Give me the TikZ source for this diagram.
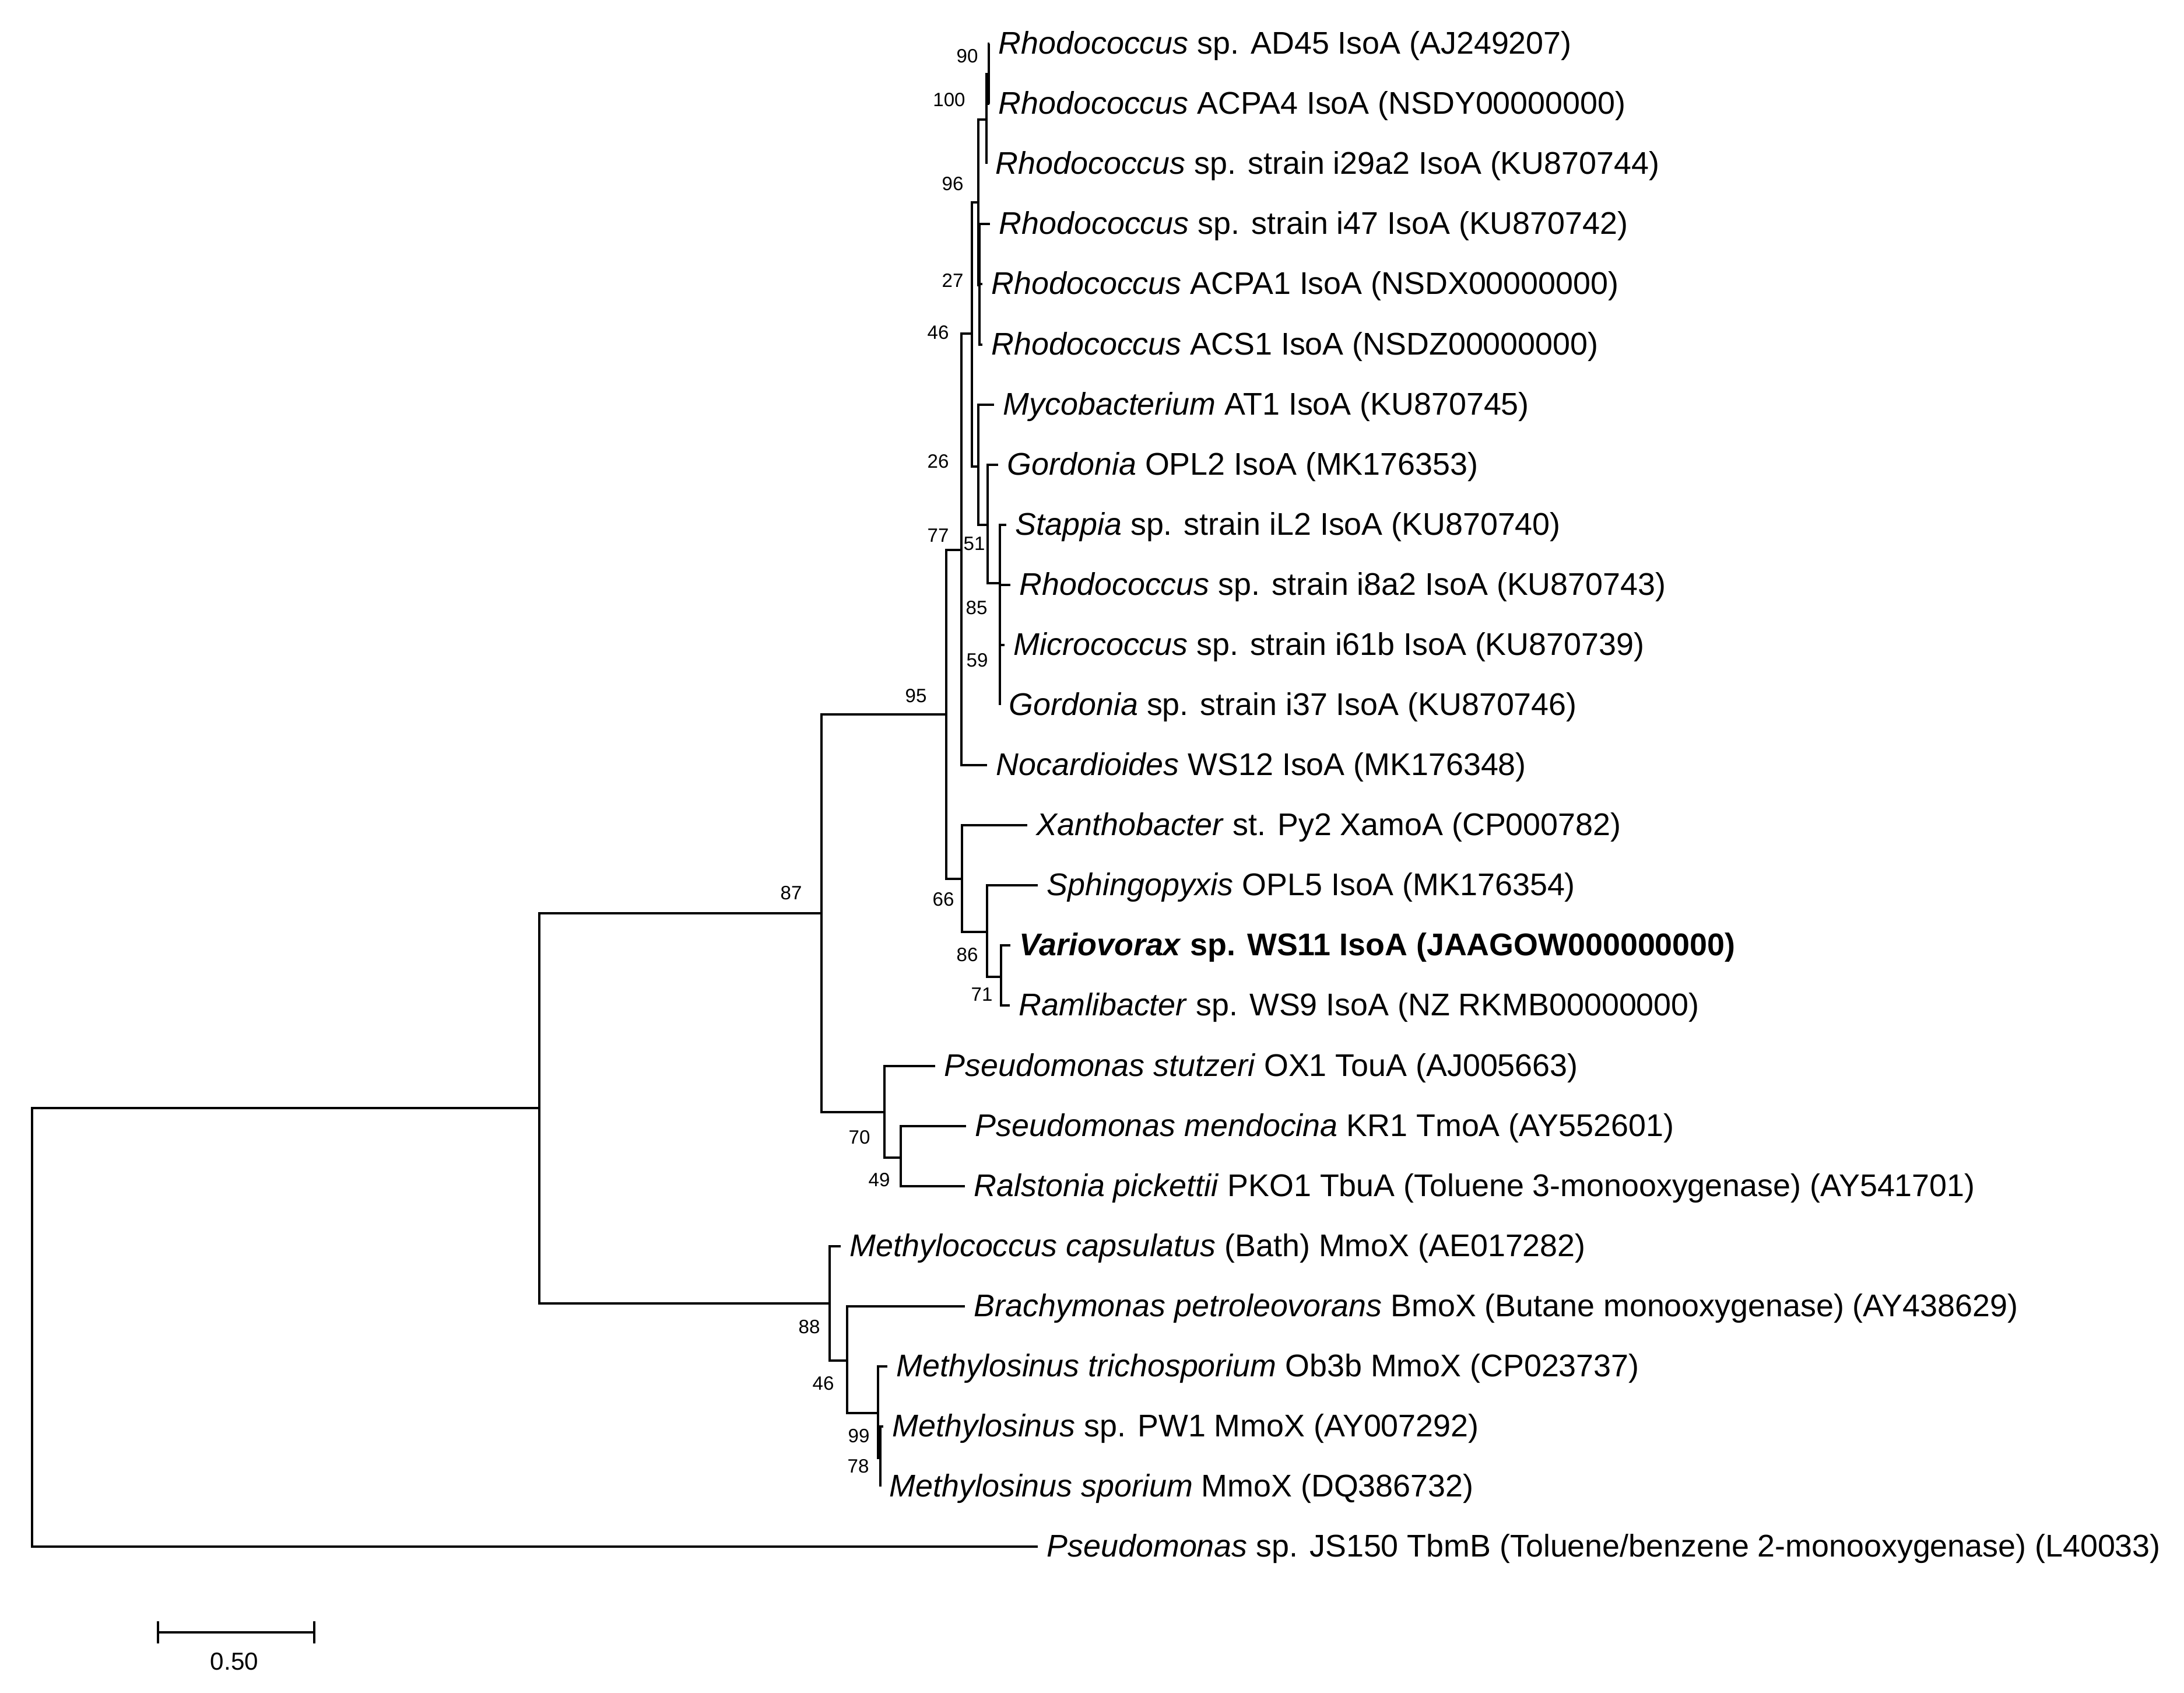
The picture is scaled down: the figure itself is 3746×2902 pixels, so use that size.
\documentclass[tikz,border=0pt]{standalone}
\usepackage{fontspec}
\setmainfont{Liberation Sans}
\begin{document}
\begin{tikzpicture}[x=0.01cm,y=-0.01cm,
  branch/.style={line width=1.25pt},
  taxon/.style={anchor=base west,inner sep=0pt,xshift=0.15cm,yshift=-0.17cm,font=\fontsize{15.3}{18}\selectfont},
  boot/.style={inner sep=0pt,font=\fontsize{9.4}{11}\selectfont}]
\useasboundingbox (0,0) rectangle (3746,2902);
% leaf tips
\foreach \n/\x/\y in {t0/1697/75, t1/1697/178, t2/1692/281, t3/1698/384, t4/1685/487,
  t5/1685/591, t6/1705/694, t7/1712/797, t8/1726/900, t9/1733/1003, t10/1723/1106,
  t11/1715/1209, t12/1693/1312, t13/1762/1415, t14/1780/1518, t15/1733/1621,
  t16/1732/1724, t17/1604/1828, t18/1657/1931, t19/1655/2034, t20/1442/2137,
  t21/1655/2240, t22/1522/2343, t23/1515/2446, t24/1510/2549, t25/1780/2652}
  \coordinate (\n) at (\x,\y);
% inner nodes
\foreach \n/\x/\y in {n1/1696/127, n2/1692/205, n4/1680/489, n3/1678/347,
  na/1715/1157, nb/1715/1080, nc/1715/1000, n7/1694/900, n8/1678/800, n5/1667/572,
  nD/1649/943, nG/1717/1675, nF/1693/1598, nE/1650/1507, nC/1623/1225,
  nQ/1545/1985, nP/1517/1907, nB/1409/1566, nO2/1510/2500, nO/1506/2423,
  nN/1453/2333, nM/1423/2235, nA/925/1900, root/55/2276}
  \coordinate (\n) at (\x,\y);
% branches
\foreach \p/\c in {n1/t0, n1/t1, n2/n1, n2/t2, n4/t3, n4/t4, n4/t5, n3/n2, n3/n4,
  na/t10, na/t11, nb/t9, nb/na, nc/t8, nc/nb, n7/t7, n7/nc, n8/t6, n8/n7,
  n5/n3, n5/n8, nD/n5, nD/t12, nG/t15, nG/t16, nF/t14, nF/nG, nE/t13, nE/nF,
  nC/nD, nC/nE, nQ/t18, nQ/t19, nP/t17, nP/nQ, nB/nC, nB/nP,
  nO2/t23, nO2/t24, nO/t22, nO/nO2, nN/t21, nN/nO, nM/t20, nM/nN,
  nA/nB, nA/nM, root/nA, root/t25}
  \draw[branch] (\p) |- (\c);
% taxa
\node[taxon] (l0) at (t0) {\textit{Rhodococcus} sp. AD45 IsoA (AJ249207)};
\node[taxon] (l1) at (t1) {\textit{Rhodococcus} ACPA4 IsoA (NSDY00000000)};
\node[taxon] (l2) at (t2) {\textit{Rhodococcus} sp. strain i29a2 IsoA (KU870744)};
\node[taxon] (l3) at (t3) {\textit{Rhodococcus} sp. strain i47 IsoA (KU870742)};
\node[taxon] (l4) at (t4) {\textit{Rhodococcus} ACPA1 IsoA (NSDX00000000)};
\node[taxon] (l5) at (t5) {\textit{Rhodococcus} ACS1 IsoA (NSDZ00000000)};
\node[taxon] (l6) at (t6) {\textit{Mycobacterium} AT1 IsoA (KU870745)};
\node[taxon] (l7) at (t7) {\textit{Gordonia} OPL2 IsoA (MK176353)};
\node[taxon] (l8) at (t8) {\textit{Stappia} sp. strain iL2 IsoA (KU870740)};
\node[taxon] (l9) at (t9) {\textit{Rhodococcus} sp. strain i8a2 IsoA (KU870743)};
\node[taxon] (l10) at (t10) {\textit{Micrococcus} sp. strain i61b IsoA (KU870739)};
\node[taxon] (l11) at (t11) {\textit{Gordonia} sp. strain i37 IsoA (KU870746)};
\node[taxon] (l12) at (t12) {\textit{Nocardioides} WS12 IsoA (MK176348)};
\node[taxon] (l13) at (t13) {\textit{Xanthobacter} st. Py2 XamoA (CP000782)};
\node[taxon] (l14) at (t14) {\textit{Sphingopyxis} OPL5 IsoA (MK176354)};
\node[taxon] (l15) at (t15) {\textbf{\textit{Variovorax} sp. WS11 IsoA (JAAGOW000000000)}};
\node[taxon] (l16) at (t16) {\textit{Ramlibacter} sp. WS9 IsoA (NZ RKMB00000000)};
\node[taxon] (l17) at (t17) {\textit{Pseudomonas stutzeri} OX1 TouA (AJ005663)};
\node[taxon] (l18) at (t18) {\textit{Pseudomonas mendocina} KR1 TmoA (AY552601)};
\node[taxon] (l19) at (t19) {\textit{Ralstonia pickettii} PKO1 TbuA (Toluene 3-monooxygenase) (AY541701)};
\node[taxon] (l20) at (t20) {\textit{Methylococcus capsulatus} (Bath) MmoX (AE017282)};
\node[taxon] (l21) at (t21) {\textit{Brachymonas petroleovorans} BmoX (Butane monooxygenase) (AY438629)};
\node[taxon] (l22) at (t22) {\textit{Methylosinus trichosporium} Ob3b MmoX (CP023737)};
\node[taxon] (l23) at (t23) {\textit{Methylosinus} sp. PW1 MmoX (AY007292)};
\node[taxon] (l24) at (t24) {\textit{Methylosinus sporium} MmoX (DQ386732)};
\node[taxon] (l25) at (t25) {\textit{Pseudomonas} sp. JS150 TbmB (Toluene/benzene 2-monooxygenase) (L40033)};
% bootstrap values
\foreach \v/\x/\y [count=\k] in {90/1659/96, 100/1628/171, 96/1634/315, 27/1634/481,
  46/1609/570, 26/1609/791, 77/1609/918, 51/1671/932, 85/1675/1042, 59/1676/1132,
  95/1571/1193, 66/1618/1542, 86/1659/1637, 71/1684/1705, 87/1357/1531,
  70/1474/1950, 49/1508/2023, 88/1388/2275, 46/1412/2372, 99/1473/2462, 78/1472/2514}
  \node[boot] (b\k) at (\x,\y) {\v};
% scale bar
\coordinate (s0) at (271,2799);
\coordinate (s1) at (539,2799);
\coordinate (s0a) at (271,2780);
\coordinate (s0b) at (271,2818);
\coordinate (s1a) at (539,2780);
\coordinate (s1b) at (539,2818);
\draw[branch] (s0) -- (s1);
\draw[branch] (s0a) -- (s0b);
\draw[branch] (s1a) -- (s1b);
\node[font=\fontsize{12}{14}\selectfont] (scale) at (402,2849) {0.50};
\end{tikzpicture}
\end{document}
